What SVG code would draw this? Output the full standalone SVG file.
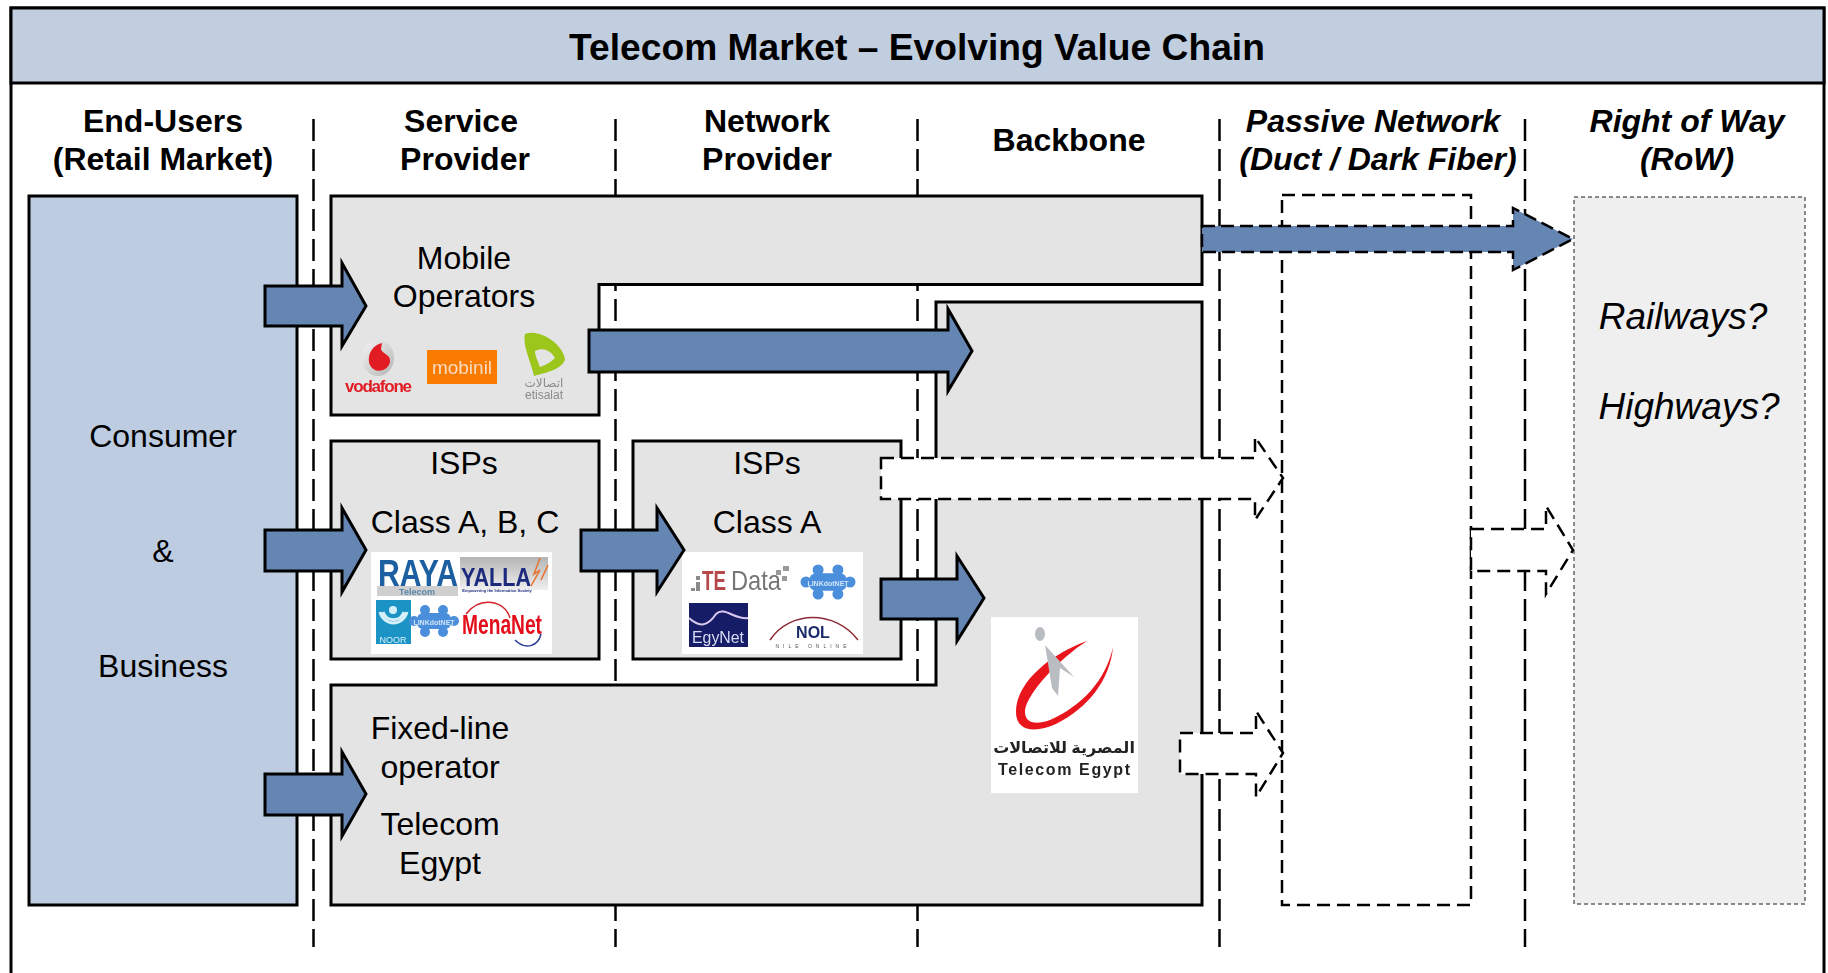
<svg xmlns="http://www.w3.org/2000/svg" width="1828" height="973" viewBox="0 0 1828 973">
<style>
text{font-family:"Liberation Sans",Arial,sans-serif;fill:#000}
.h{font-size:32px;font-weight:bold;text-anchor:middle}
.hi{font-size:32px;font-weight:bold;font-style:italic;text-anchor:middle}
.b{font-size:32px;text-anchor:middle}
.r{font-size:37px;font-style:italic;text-anchor:middle}
.ar{font-family:"Noto Sans","DejaVu Sans",sans-serif;text-anchor:middle}
.box{fill:#e4e4e4;stroke:#000;stroke-width:3}
.div{fill:none;stroke:#000;stroke-width:2.5;stroke-dasharray:22 8}
.arr{fill:#6585b3;stroke:#000;stroke-width:3}
.blue{fill:#6585b3;stroke:#000;stroke-width:2.5;stroke-dasharray:13 6}
.wh{fill:#fff;stroke:#000;stroke-width:2.5;stroke-dasharray:13 7}
.logo{fill:#fff}
</style>
<defs>
<filter id="s" x="-10%" y="-10%" width="120%" height="120%"><feGaussianBlur stdDeviation="0.6"/></filter>
<linearGradient id="yg" x1="0" y1="0" x2="0" y2="1"><stop offset="0" stop-color="#b4b4b4"/><stop offset="1" stop-color="#efefef"/></linearGradient>
<linearGradient id="vg" x1="0" y1="0" x2="1" y2="1"><stop offset="0" stop-color="#f4f4f4"/><stop offset="1" stop-color="#b5b5b5"/></linearGradient>
<g id="puz"><rect x="-17" y="-8" width="34" height="16" rx="6" fill="#4b8fdc"/><circle cx="-9" cy="-11" r="5" fill="#4b8fdc"/><circle cx="9" cy="-11" r="5" fill="#4b8fdc"/><circle cx="-9" cy="11" r="5" fill="#4b8fdc"/><circle cx="9" cy="11" r="5" fill="#4b8fdc"/><circle cx="-20" cy="0" r="5" fill="#4b8fdc"/><circle cx="20" cy="0" r="5" fill="#4b8fdc"/></g>
</defs>
<rect width="1828" height="973" fill="#fff"/>
<g id="frame">
<rect x="11" y="8" width="1813" height="980" fill="#fff" stroke="#000" stroke-width="3"/>
<rect x="11" y="8" width="1813" height="75" fill="#c0cee0" stroke="#000" stroke-width="3"/>
<text x="917" y="60" font-size="37.200" font-weight="bold" text-anchor="middle">Telecom Market – Evolving Value Chain</text>
</g>
<g id="dividers">
<path class="div" d="M313.500 119V947M615.500 119V947M917.500 119V947M1219.500 119V947M1525 119V947"/>
</g>
<g id="headers">
<text class="h" x="163" y="132">End-Users</text><text class="h" x="163" y="170">(Retail Market)</text>
<text class="h" x="461" y="132">Service</text><text class="h" x="465" y="170">Provider</text>
<text class="h" x="767" y="132">Network</text><text class="h" x="767" y="170">Provider</text>
<text class="h" x="1069" y="151">Backbone</text>
<text class="hi" x="1373" y="132">Passive Network</text><text class="hi" x="1378" y="170">(Duct / Dark Fiber)</text>
<text class="hi" x="1687" y="132">Right of Way</text><text class="hi" x="1687" y="170">(RoW)</text>
</g>
<g id="end-users">
<rect x="29" y="196" width="268" height="709" fill="#bdcce0" stroke="#000" stroke-width="3"/>
<text class="b" x="163" y="447">Consumer</text><text class="b" x="163" y="562">&amp;</text><text class="b" x="163" y="677">Business</text>
</g>
<g id="passive-network"><rect x="1282" y="195" width="189" height="710" fill="#fff" stroke="#000" stroke-width="2.500" stroke-dasharray="13 7"/></g>
<g id="right-of-way">
<rect x="1574" y="197" width="231" height="707" fill="#efefef" stroke="#666" stroke-width="1.500" stroke-dasharray="4 3"/>
<text class="r" x="1683" y="329">Railways?</text><text class="r" x="1689" y="419">Highways?</text>
</g>
<g id="mobile-operators">
<path class="box" d="M331 196H1202V284.500H599V415H331Z"/>
<text class="b" x="464" y="269">Mobile</text><text class="b" x="464" y="307">Operators</text>
<g filter="url(#s)">
<ellipse cx="378" cy="358" rx="16" ry="18" fill="url(#vg)"/><path d="M382 343C370 346 367 358 370 365C374 374 388 372 390 362C391 354 382 354 381 349Z" fill="#e11b22"/>
<text x="345" y="392" font-size="17" font-weight="bold" textLength="67" style="fill:#e11b22">vodafone</text>
<rect x="427" y="350" width="70" height="34" fill="#f97b06"/>
<text x="462" y="374" font-size="19" text-anchor="middle" style="fill:#f7dcc0">mobinil</text>
<path d="M525 334C540 328 564 345 565 360C560 370 548 372 534 376C532 365 522 345 525 334Z" fill="#9cc61f"/>
<path d="M535 351C544 346 552 352 555 358C550 363 545 365 540 367C538 361 535 356 535 351Z" fill="#e4e4e4"/>
<text class="ar" x="544" y="387" font-size="12" style="fill:#8a8a8a" direction="rtl">اتصالات</text>
<text x="544" y="399" font-size="12" text-anchor="middle" style="fill:#8a8a8a">etisalat</text>
</g>
</g>
<g id="backbone-fixed">
<path class="box" d="M936 302H1202V905H331V685H936Z"/>
<text class="b" x="440" y="739">Fixed-line</text><text class="b" x="440" y="778">operator</text>
<text class="b" x="440" y="835">Telecom</text><text class="b" x="440" y="874">Egypt</text>
<g id="te-logo">
<rect class="logo" x="991" y="617" width="147" height="176"/>
<g filter="url(#s)">
<path d="M1087 641C1055 652 1016 680 1016 712C1016 732 1036 733 1056 724C1088 708 1110 680 1113 647C1106 680 1082 706 1050 720C1034 726 1024 722 1025 710C1028 692 1060 658 1087 641Z" fill="#e8141c"/>
<ellipse cx="1040" cy="634" rx="5" ry="7" fill="#b9bcc0"/>
<path d="M1045 645L1074 677L1060 668L1058 696L1052 688Z" fill="#b9bcc0"/>
<text class="ar" x="1064" y="753" font-size="16" font-weight="bold" direction="rtl" style="fill:#222">المصرية للاتصالات</text>
<text x="1064" y="775" font-size="16" font-weight="bold" text-anchor="middle" textLength="132" style="fill:#222">Telecom Egypt</text>
</g>
</g>
</g>
<g id="isps-abc">
<rect class="box" x="331" y="441" width="268" height="218"/>
<text class="b" x="464" y="474">ISPs</text><text class="b" x="465" y="533">Class A, B, C</text>
<rect class="logo" x="371" y="552" width="181" height="102"/>
<g filter="url(#s)">
<rect x="377" y="586" width="81" height="10" fill="#cfcfcf"/>
<text x="378" y="586" font-size="37" font-weight="bold" textLength="80" lengthAdjust="spacingAndGlyphs" style="fill:#1c5fa0">RAYA</text>
<text x="417" y="595" font-size="9" font-weight="bold" text-anchor="middle" style="fill:#5a86aa">Telecom</text>
<rect x="460" y="557" width="88" height="33" fill="url(#yg)"/>
<text x="461" y="586" font-size="26" font-weight="bold" textLength="70" lengthAdjust="spacingAndGlyphs" style="fill:#1b2b7e">YALLA</text>
<path d="M540 558L534 574L540 570L531 586M548 565L541 580" fill="none" stroke="#e8702a" stroke-width="1.500"/>
<text x="497" y="592" font-size="4" font-weight="bold" text-anchor="middle" style="fill:#1b2b7e">Empowering the Information Society</text>
<rect x="376" y="600" width="35" height="44" fill="#1f93c5"/>
<path d="M383 612A11 11 0 0 0 404 612M380 612A14 15 0 0 0 407 612" fill="none" stroke="#d5f0fa" stroke-width="3"/>
<circle cx="393" cy="610" r="4" fill="#d5f0fa"/>
<text x="393" y="643" font-size="9" text-anchor="middle" style="fill:#d5f0fa">NOOR</text>
<use href="#puz" transform="translate(434 621)"/>
<text x="434" y="625" font-size="7" font-weight="bold" text-anchor="middle" style="fill:#cfe3f7">LINKdotNET</text>
<path d="M466 614C480 596 505 600 510 618" fill="none" stroke="#d42027" stroke-width="1.500"/>
<text x="462" y="634" font-size="27" font-weight="bold" textLength="80" lengthAdjust="spacingAndGlyphs" style="fill:#e3101a">MenaNet</text>
<path d="M515 640C525 650 538 647 541 634" fill="none" stroke="#2b3f9a" stroke-width="1.500"/>
</g>
</g>
<g id="isps-a">
<rect class="box" x="633" y="441" width="268" height="218"/>
<text class="b" x="767" y="474">ISPs</text><text class="b" x="767" y="533">Class A</text>
<rect class="logo" x="682" y="552" width="181" height="102"/>
<g filter="url(#s)">
<path d="M691 588h4v3h-4zM696 582h4v9h-4zM696 576h4v4h-4z" fill="#8b8b8b"/>
<text x="702" y="590" font-size="28" style="fill:#b5484a;font-weight:bold" textLength="24" lengthAdjust="spacingAndGlyphs">TE</text>
<text x="731" y="590" font-size="28" textLength="50" lengthAdjust="spacingAndGlyphs" style="fill:#777">Data</text>
<path d="M776 570h5v5h-5zM783 566h6v5h-6zM782 576h5v5h-5z" fill="#9a9a9a"/>
<use href="#puz" transform="translate(828 582) scale(1.100)"/>
<text x="828" y="586" font-size="7" font-weight="bold" text-anchor="middle" style="fill:#cfe3f7">LINKdotNET</text>
<rect x="689" y="603" width="59" height="44" fill="#151b66"/>
<path d="M689 618C700 628 708 626 716 614C724 606 735 620 748 618" fill="none" stroke="#d9c7ee" stroke-width="2"/>
<text x="718" y="643" font-size="17" text-anchor="middle" textLength="52" lengthAdjust="spacingAndGlyphs" style="fill:#d8dcf5">EgyNet</text>
<path d="M770 640C790 610 835 610 858 640" fill="none" stroke="#8c2b35" stroke-width="1.500"/>
<text x="813" y="638" font-size="16" font-weight="bold" text-anchor="middle" style="fill:#1d2c6b">NOL</text>
<text x="813" y="648" font-size="5" text-anchor="middle" letter-spacing="4" style="fill:#555">NILE ONLINE</text>
</g>
</g>
<g id="connectors">
<polygon class="arr" points="265,286 342,286 342,263 366,306 342,346 342,326 265,326"/>
<polygon class="arr" points="265,530 342,530 342,508 366,550 342,592 342,571 265,571"/>
<polygon class="arr" points="265,774 342,774 342,752 366,794 342,836 342,815 265,815"/>
<polygon class="arr" points="581,530 657,530 657,508 684,550 657,592 657,571 581,571"/>
<polygon class="arr" points="589,330 948,330 948,309 972,351 948,391 948,372 589,372"/>
<polygon class="arr" points="881,579 957,579 957,556 984,598 957,641 957,619 881,619"/>
<polygon class="blue" points="1202,226 1513,226 1513,208 1573,239 1513,270 1513,252 1202,252"/>
<polygon class="wh" points="881,458 1255,458 1255,437 1283,478 1255,520 1255,499 881,499"/>
<polygon class="wh" points="1471,529 1546,529 1546,506 1573,550 1546,594 1546,571 1471,571"/>
<polygon class="wh" points="1180,733 1256,733 1256,711 1283,753 1256,797 1256,774 1180,774"/>
</g>
</svg>
